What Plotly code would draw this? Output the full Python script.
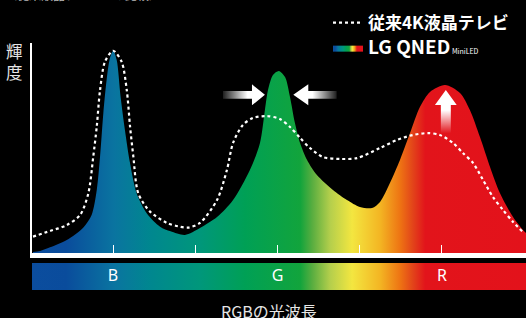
import plotly.graph_objects as go

# ---------------- data ----------------
# LG QNED MiniLED spectrum (wavelength nm, relative luminance)
qned_nm = [411.1, 414.5, 419.4, 427.5, 435.6, 439.6, 442.1, 443.7, 445.3, 446.9, 448.5, 450.1,
           451.8, 453.7, 455.8, 458.3, 461.5, 466.4, 472.9, 478.0, 485.0, 492.3, 500.6, 508.4,
           516.6, 521.5, 523.9, 525.4, 527.8, 530.7, 533.7, 536.1, 538.5, 541.0, 544.4, 549.2,
           557.0, 563.8, 570.1, 576.0, 579.9, 584.7, 589.6, 594.5, 599.3, 604.2, 611.5, 618.8,
           623.6, 628.5, 633.4, 638.2, 644.6, 649.4, 650.9]
qned_lum = [0.5, 1.0, 2.7, 6.2, 12.2, 18.1, 30.0, 45.9, 66.5, 82.4, 92.7, 96.3,
            91.9, 74.4, 58.6, 42.7, 28.4, 18.9, 12.5, 10.3, 8.6, 11.9, 17.1, 25.2,
            39.5, 52.4, 68.1, 77.6, 84.8, 86.7, 83.8, 74.3, 61.9, 52.4, 44.3, 37.1,
            30.0, 25.2, 21.9, 21.4, 24.3, 33.3, 44.3, 57.1, 69.5, 76.7, 80.0, 76.2,
            68.1, 55.2, 41.0, 28.6, 17.1, 11.0, 9.5]

# Conventional 4K LCD TV spectrum
conv_nm = [411.1, 419.4, 427.5, 434.0, 438.0, 440.4, 442.1, 443.7, 446.1, 450.1, 454.2, 456.7,
           458.3, 459.9, 462.3, 468.0, 476.1, 482.6, 486.5, 492.3, 500.6, 505.4, 508.4, 513.2,
           518.1, 524.9, 531.2, 536.1, 541.0, 545.8, 552.1, 560.4, 568.7, 579.9, 588.1, 595.9,
           603.2, 609.0, 615.4, 620.2, 625.1, 630.0, 634.8, 639.7, 644.6, 649.4]
conv_lum = [7.8, 10.5, 13.3, 18.1, 28.4, 45.9, 60.2, 77.6, 91.1, 96.3, 91.1, 77.6,
            60.2, 45.9, 28.4, 19.7, 14.4, 12.5, 12.1, 14.3, 25.2, 39.5, 52.4, 61.0,
            64.3, 65.2, 63.8, 60.0, 54.8, 50.0, 45.7, 44.8, 45.2, 50.0, 53.8, 56.2,
            57.1, 56.2, 52.4, 47.6, 42.9, 34.8, 26.7, 20.5, 14.8, 10.0]

tick_nm = [450, 490, 530, 570, 610]
band_labels = ["B", "G", "R"]
band_nm = [450, 530, 610]

series_names = ["従来4K液晶テレビ", "LG QNED"]
x_title = "RGBの光波長"
y_title = "輝<br>度"
top_note = "（従来液晶テレビとの比較）"

# spectrum gradient (position along axis 0..1, colour)
grad_pos = [0.0, 0.069, 0.166, 0.24, 0.341, 0.432, 0.543, 0.568, 0.604, 0.648, 0.705, 0.745, 0.772, 0.796, 1.0]
grad_col = ["#0b4d9e", "#0a4c9c", "#0a74a0", "#00878f", "#00977a", "#00a055", "#12a43c", "#5aae40",
            "#b5cf4c", "#f3e640", "#f3b523", "#ee7413", "#e2421a", "#e2141b", "#e3121b"]

X_RANGE = [410.6, 650.9]
Y_RANGE = [0, 100]

# ---------------- figure ----------------
spectrum = [[p, c] for p, c in zip(grad_pos, grad_col)]
FONT_JP = "Noto Sans CJK JP"

fig = go.Figure()

# QNED filled curve with horizontal gradient
fig.add_trace(go.Scatter(
    x=qned_nm, y=qned_lum, mode="lines",
    line=dict(shape="spline", smoothing=0.8, width=0, color="rgba(0,0,0,0)"),
    fill="tozeroy",
    fillgradient=dict(type="horizontal", colorscale=spectrum, start=X_RANGE[0], stop=X_RANGE[1]),
    name="<b><span style='font-size:19px'>" + series_names[1] + "</span></b>"
         "<span style='font-size:7px'> MiniLED</span>",
    legendrank=2, hoverinfo="skip",
))

# conventional dotted curve
fig.add_trace(go.Scatter(
    x=conv_nm, y=conv_lum, mode="lines",
    line=dict(shape="spline", smoothing=0.8, width=2.2, color="white", dash="3px,3px"),
    name="<b>" + series_names[0] + "</b>",
    legendrank=1, hoverinfo="skip",
))

# decorative arrows around the G and R peaks
def h_arrow(tail, base, tip, yc, sh, hh):
    xs = [tail, base, base, tip, base, base, tail, tail]
    ys = [yc - sh, yc - sh, yc - hh, yc, yc + hh, yc + sh, yc + sh, yc - sh]
    return xs, ys

def v_arrow(tail, base, tip, xc, sw, hw):
    ys = [tail, base, base, tip, base, base, tail, tail]
    xs = [xc - sw, xc - sw, xc - hw, xc, xc + hw, xc + sw, xc + sw, xc - sw]
    return xs, ys

fade = "rgba(255,255,255,0.12)"
ax1, ay1 = h_arrow(503.5, 517.6, 523.9, 75.3, 1.9, 5.0)
fig.add_trace(go.Scatter(x=ax1, y=ay1, mode="lines", line=dict(width=0), fill="toself",
                         fillgradient=dict(type="horizontal", colorscale=[[0, fade], [1, "white"]],
                                           start=503.5, stop=515.5),
                         showlegend=False, hoverinfo="skip"))
ax2, ay2 = h_arrow(558.8, 545.0, 537.7, 75.3, 1.9, 5.0)
fig.add_trace(go.Scatter(x=ax2, y=ay2, mode="lines", line=dict(width=0), fill="toself",
                         fillgradient=dict(type="horizontal", colorscale=[[0, "white"], [1, fade]],
                                           start=547.0, stop=558.8),
                         showlegend=False, hoverinfo="skip"))
ax3, ay3 = v_arrow(57.0, 70.5, 77.6, 611.9, 2.43, 5.3)
fig.add_trace(go.Scatter(x=ax3, y=ay3, mode="lines", line=dict(width=0), fill="toself",
                         fillgradient=dict(type="vertical", colorscale=[[0, "rgba(255,255,255,0)"], [1, "white"]],
                                           start=57.0, stop=68.0),
                         showlegend=False, hoverinfo="skip"))

# spectrum colour band below the axis
fig.add_trace(go.Scatter(
    x=[X_RANGE[0], X_RANGE[1], X_RANGE[1], X_RANGE[0], X_RANGE[0]], y=[0, 0, 1, 1, 0],
    yaxis="y2", mode="lines", line=dict(width=0), fill="toself",
    fillgradient=dict(type="horizontal", colorscale=spectrum, start=X_RANGE[0], stop=X_RANGE[1]),
    showlegend=False, hoverinfo="skip",
))
fig.add_trace(go.Scatter(
    x=band_nm, y=[0.5] * len(band_nm), yaxis="y2", mode="text", text=band_labels,
    textfont=dict(family="Noto Sans", size=16, color="white"),
    showlegend=False, hoverinfo="skip",
))

W, H = 526, 318
ML, MR, MT, MB = 32, 0, 43, 28
plot_w = W - ML - MR
plot_h = H - MT - MB
main_bottom_px = 253
band_top_px = 263


def px_x(px):  # page pixel -> paper x
    return (px - ML) / plot_w


def px_y(py):  # page pixel -> paper y
    return (H - MB - py) / plot_h


annotations = [
    dict(text=y_title, x=px_x(14.5), xref="paper", xanchor="center",
         y=px_y(61), yref="paper", yanchor="middle", showarrow=False,
         font=dict(family=FONT_JP, size=16.5, color="#e6e6e6")),
    dict(text=x_title, x=px_x(269), xref="paper", xanchor="center",
         y=px_y(311), yref="paper", yanchor="middle", showarrow=False,
         font=dict(family=FONT_JP, size=16, color="#e6e6e6")),
    dict(text=top_note, x=px_x(3), xref="paper", xanchor="left",
         y=px_y(5), yref="paper", yanchor="bottom", showarrow=False,
         font=dict(family=FONT_JP, size=12, color="#bbbbbb")),
]

fig.update_layout(
    width=W, height=H, autosize=False,
    margin=dict(l=ML, r=MR, t=MT, b=MB, pad=0),
    paper_bgcolor="black", plot_bgcolor="black",
    font=dict(family=FONT_JP, color="white"),
    xaxis=dict(range=X_RANGE, anchor="y", showgrid=False, zeroline=False,
               showline=True, linecolor="white", linewidth=5,
               tickmode="array", tickvals=tick_nm, ticks="inside", ticklen=8,
               tickwidth=1, tickcolor="white", showticklabels=False, fixedrange=True),
    yaxis=dict(range=Y_RANGE, domain=[px_y(main_bottom_px), 1],
               showgrid=False, zeroline=False, showline=True, linecolor="white",
               linewidth=2, showticklabels=False, ticks="", fixedrange=True),
    yaxis2=dict(range=[0, 1], domain=[0, px_y(band_top_px)],
                visible=False, fixedrange=True),
    showlegend=True,
    legend=dict(x=px_x(328), y=px_y(5), xanchor="left", yanchor="top",
                bgcolor="rgba(0,0,0,0)", font=dict(family=FONT_JP, size=17, color="white"),
                tracegroupgap=0, itemwidth=30),
    annotations=annotations,
)

fig.write_html("out.html", config={"displayModeBar": False},
               post_script="document.body.style.margin='0';document.body.style.background='black';")
